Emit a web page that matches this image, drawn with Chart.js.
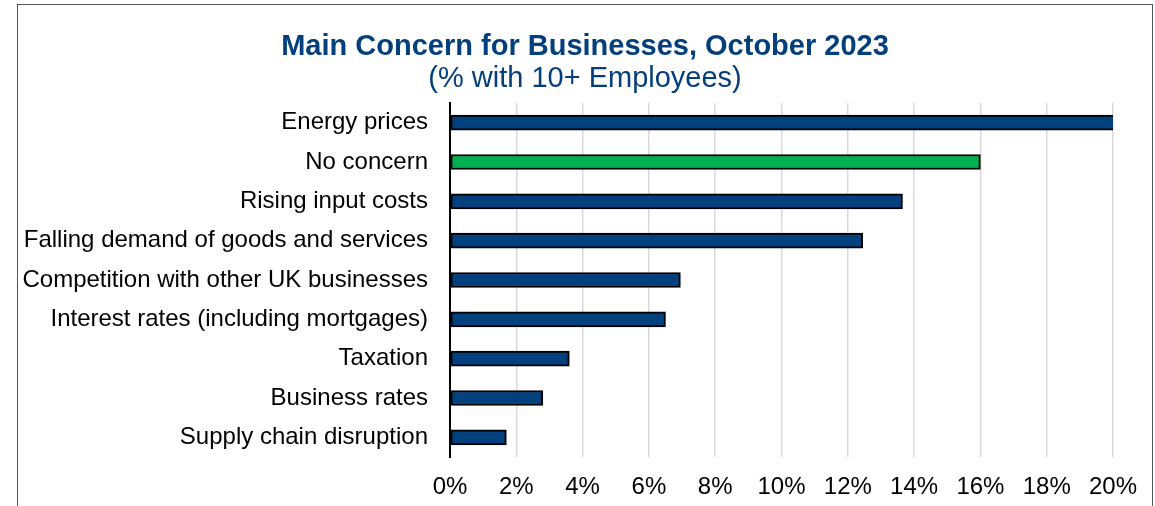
<!DOCTYPE html>
<html>
<head>
<meta charset="utf-8">
<title>Main Concern for Businesses</title>
<script src="https://cdn.jsdelivr.net/npm/chart.js@4"></script>
<style>
  body { margin: 0; background: #fff; }
  .frame {
    position: absolute; left: 17px; top: 4px;
    width: 1134px; height: 520px;
    border: 1.5px solid #555;
  }
  #concernChart { position: absolute; left: 0; top: 0; }
</style>
</head>
<body>
<div class="frame">
  <canvas id="concernChart" width="1134" height="501"></canvas>
</div>
<script>
const concerns = [
  'Energy prices',
  'No concern',
  'Rising input costs',
  'Falling demand of goods and services',
  'Competition with other UK businesses',
  'Interest rates (including mortgages)',
  'Taxation',
  'Business rates',
  'Supply chain disruption'
];
const shares = [20.1, 16.0, 13.65, 12.45, 6.95, 6.5, 3.6, 2.8, 1.7];
const xTicks = [0, 2, 4, 6, 8, 10, 12, 14, 16, 18, 20];

const navy = '#02417E';
const green = '#00B050';
const barColours = concerns.map(c => c === 'No concern' ? green : navy);

Chart.defaults.font.family = 'Arial, "Liberation Sans", sans-serif';
Chart.defaults.color = '#000';

const ctx = document.getElementById('concernChart');
const concernChart = new Chart(ctx, {
    type: 'bar',
    data: {
        labels: concerns,
        datasets: [{
            data: shares,
            backgroundColor: barColours,
            borderColor: '#000',
            borderWidth: 2,
            borderSkipped: false,
            barThickness: 15
        }]
    },
    options: {
        indexAxis: 'y',
        responsive: false,
        animation: false,
        layout: { padding: 0 },
        plugins: {
            legend: { display: false },
            tooltip: { enabled: false },
            title: {
                display: true,
                text: 'Main Concern for Businesses, October 2023',
                color: '#033F7D',
                font: { size: 29, weight: 'bold', lineHeight: 1 },
                padding: { top: 27, bottom: 3 }
            },
            subtitle: {
                display: true,
                text: '(% with 10+ Employees)',
                color: '#033F7D',
                font: { size: 29, weight: 'normal', lineHeight: 1 },
                padding: { top: 0, bottom: 10 }
            }
        },
        scales: {
            x: {
                min: 0,
                max: 20,
                afterBuildTicks: scale => {
                    scale.ticks = xTicks.map(v => ({ value: v }));
                },
                // fixed band under the plot, and room on the right so the
                // centred title is not pushed left
                afterFit: scale => {
                    scale.height = 49;
                    scale.paddingRight = 39;
                },
                grid: { color: '#D9D9D9', lineWidth: 1.5, drawTicks: false },
                border: { display: false },
                ticks: {
                    padding: 16,
                    font: { size: 24 },
                    callback: v => v + '%'
                }
            },
            y: {
                afterFit: scale => { scale.width = 432; },
                grid: { display: false, drawTicks: false },
                border: { display: true, color: '#000', width: 2 },
                ticks: {
                    padding: 22,
                    font: { size: 24 }
                }
            }
        }
    }
});
</script>
</body>
</html>
